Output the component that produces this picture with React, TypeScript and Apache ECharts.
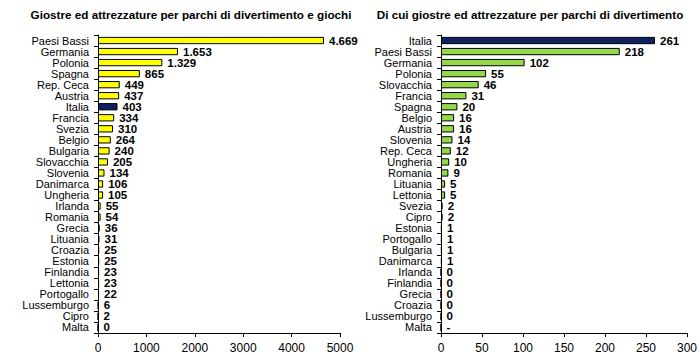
import React, { useEffect, useRef } from "react";
import * as echarts from "echarts";

const leftCategories = ["Paesi Bassi","Germania","Polonia","Spagna","Rep. Ceca","Austria","Italia","Francia","Svezia","Belgio","Bulgaria","Slovacchia","Slovenia","Danimarca","Ungheria","Irlanda","Romania","Grecia","Lituania","Croazia","Estonia","Finlandia","Lettonia","Portogallo","Lussemburgo","Cipro","Malta"];
const leftValues = [4669,1653,1329,865,449,437,403,334,310,264,240,205,134,106,105,55,54,36,31,25,25,23,23,22,6,2,0];

const rightCategories = ["Italia","Paesi Bassi","Germania","Polonia","Slovacchia","Francia","Spagna","Belgio","Austria","Slovenia","Rep. Ceca","Ungheria","Romania","Lituania","Lettonia","Svezia","Cipro","Estonia","Portogallo","Bulgaria","Danimarca","Irlanda","Finlandia","Grecia","Croazia","Lussemburgo","Malta"];
const rightValues: (number | null)[] = [261,218,102,55,46,31,20,16,16,14,12,10,9,5,5,2,2,1,1,1,1,0,0,0,0,0,null];

const leftTicks = { min: 0, max: 5000, interval: 1000 };
const rightTicks = { min: 0, max: 300, interval: 50 };

const highlight = "Italia";
const YELLOW = "#FFFF00";
const GREEN = "#96D84A";
const NAVY = "#0F2160";
const FONT = "'Liberation Sans', Arial, sans-serif";

const fmt = (v: number) => String(v).replace(/\B(?=(\d{3})+(?!\d))/g, ".");

export default function App() {
  const ref = useRef<HTMLDivElement>(null);
  useEffect(() => {
    const chart = echarts.init(ref.current!, undefined, { renderer: "svg" });
    const catAxis = (cats: string[], gi: number) => ({
      type: "category",
      gridIndex: gi,
      data: cats,
      inverse: true,
      axisLine: { lineStyle: { color: "#000", width: 1 } },
      axisTick: { show: true, alignWithLabel: false, length: 4, lineStyle: { color: "#000" } },
      axisLabel: { color: "#000", fontFamily: FONT, fontSize: 11, margin: 9, interval: 0 },
    });
    const valAxis = (t: any, gi: number) => ({
      type: "value",
      gridIndex: gi,
      min: t.min,
      max: t.max,
      interval: t.interval,
      splitLine: { show: false },
      axisLine: { show: true, lineStyle: { color: "#000", width: 1 } },
      axisTick: { show: true, length: 4, lineStyle: { color: "#000" } },
      axisLabel: { color: "#000", fontFamily: FONT, fontSize: 12, margin: 9, formatter: (v: number) => String(v) },
    });
    const labelCommon = {
      show: true,
      position: "right",
      distance: 5,
      color: "#000",
      fontFamily: FONT,
      fontWeight: "bold",
      fontSize: 11.5,
    };
    chart.setOption({
      animation: false,
      backgroundColor: "#fff",
      title: [
        { text: "Giostre ed attrezzature per parchi di divertimento e giochi", left: 186, top: 3, textAlign: "center",
          textStyle: { fontFamily: FONT, fontWeight: "bold", fontSize: 11.7, color: "#000" } },
        { text: "Di cui giostre ed attrezzature per parchi di divertimento", left: 525, top: 3, textAlign: "center",
          textStyle: { fontFamily: FONT, fontWeight: "bold", fontSize: 11.7, color: "#000" } },
      ],
      grid: [
        { left: 98, right: 360, top: 35, bottom: 22 },
        { left: 441, right: 13, top: 35, bottom: 22 },
      ],
      xAxis: [valAxis(leftTicks, 0), valAxis(rightTicks, 1)],
      yAxis: [catAxis(leftCategories, 0), catAxis(rightCategories, 1)],
      series: [
        {
          type: "bar",
          xAxisIndex: 0,
          yAxisIndex: 0,
          barCategoryGap: "34%",
          data: leftValues.map((v, i) => ({
            value: v,
            itemStyle: { color: leftCategories[i] === highlight ? NAVY : YELLOW },
          })),
          itemStyle: { borderColor: "#000", borderWidth: 1 },
          label: { ...labelCommon, formatter: (p: any) => fmt(p.value) },
        },
        {
          type: "bar",
          xAxisIndex: 1,
          yAxisIndex: 1,
          barCategoryGap: "34%",
          data: rightValues.map((v, i) => ({
            value: v === null ? 0 : v,
            itemStyle: { color: rightCategories[i] === highlight ? NAVY : GREEN },
            label: v === null ? { formatter: "-" } : undefined,
          })),
          itemStyle: { borderColor: "#000", borderWidth: 1 },
          label: { ...labelCommon, formatter: (p: any) => fmt(p.value) },
        },
      ],
    });
    return () => chart.dispose();
  }, []);
  return <div ref={ref} style={{ width: 700, height: 355, position: "absolute", left: 0, top: 0 }} />;
}
